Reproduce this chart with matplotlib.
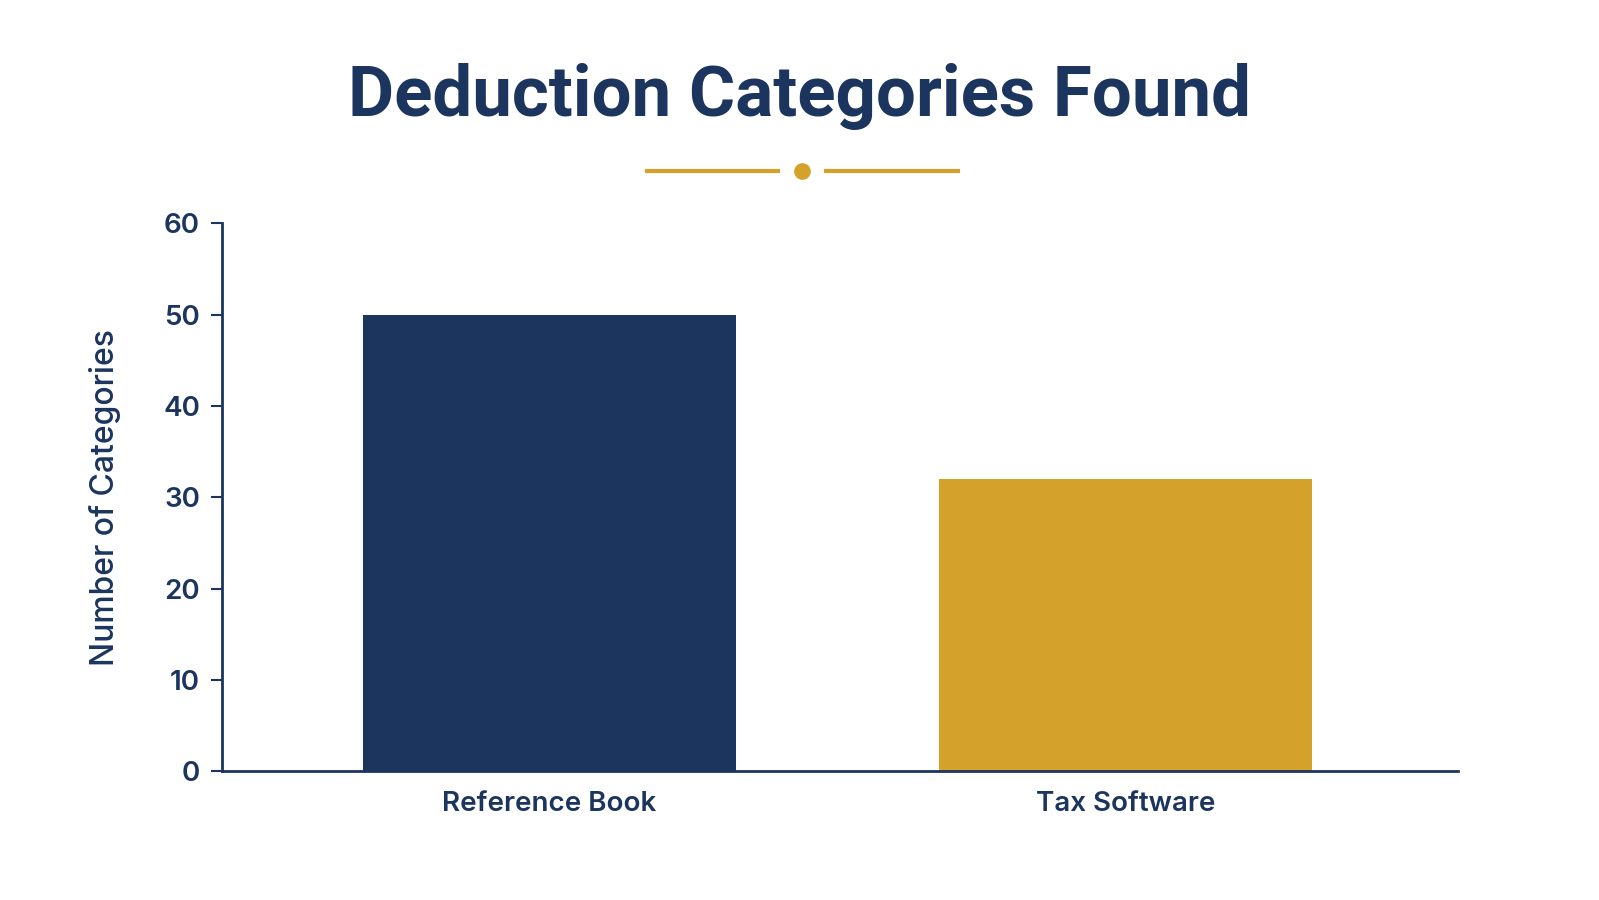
import matplotlib
matplotlib.use("Agg")
import matplotlib.pyplot as plt
from matplotlib.lines import Line2D

categories = ["Reference Book", "Tax Software"]
values = [50, 32]
colors = ["#1c355e", "#d4a12a"]
navy = "#1c355e"
gold = "#d4a12a"

fig = plt.figure(figsize=(15.99, 9), dpi=100)
ax = fig.add_axes([0.139, 0.143, 0.773, 0.609])
ax.bar(range(len(categories)), values, width=0.648, color=colors, zorder=2)
ax.set_xlim(-0.568, 1.578)
ax.set_ylim(0, 60)
ax.set_yticks(range(0, 61, 10))
ax.set_xticks(range(len(categories)))
ax.set_xticklabels(categories)
for s in ["top", "right"]:
    ax.spines[s].set_visible(False)
for s in ["left", "bottom"]:
    ax.spines[s].set_color(navy)
    ax.spines[s].set_linewidth(2)
ax.tick_params(axis="y", colors=navy, labelsize=20, length=8, width=1.5, pad=8)
ax.tick_params(axis="x", colors=navy, labelsize=20, length=0, pad=14)
for lab in ax.get_xticklabels() + ax.get_yticklabels():
    lab.set_fontfamily("Inter")
    lab.set_fontweight("semibold")
ax.set_ylabel("Number of Categories", fontsize=23, color=navy, family="Inter",
              fontweight="medium", labelpad=30)

fig.text(0.5, 0.893, "Deduction Categories Found", ha="center", va="center",
         fontsize=51, fontweight="bold", color=navy, family="Roboto")
fig.add_artist(Line2D([647/1599, 778/1599], [1-171/900]*2, color=gold, lw=3))
fig.add_artist(Line2D([826/1599, 958/1599], [1-171/900]*2, color=gold, lw=3))
fig.add_artist(Line2D([802/1599], [1-171/900], marker="o", markersize=11, color=gold))

fig.savefig("out.png", dpi=100, facecolor="white")
